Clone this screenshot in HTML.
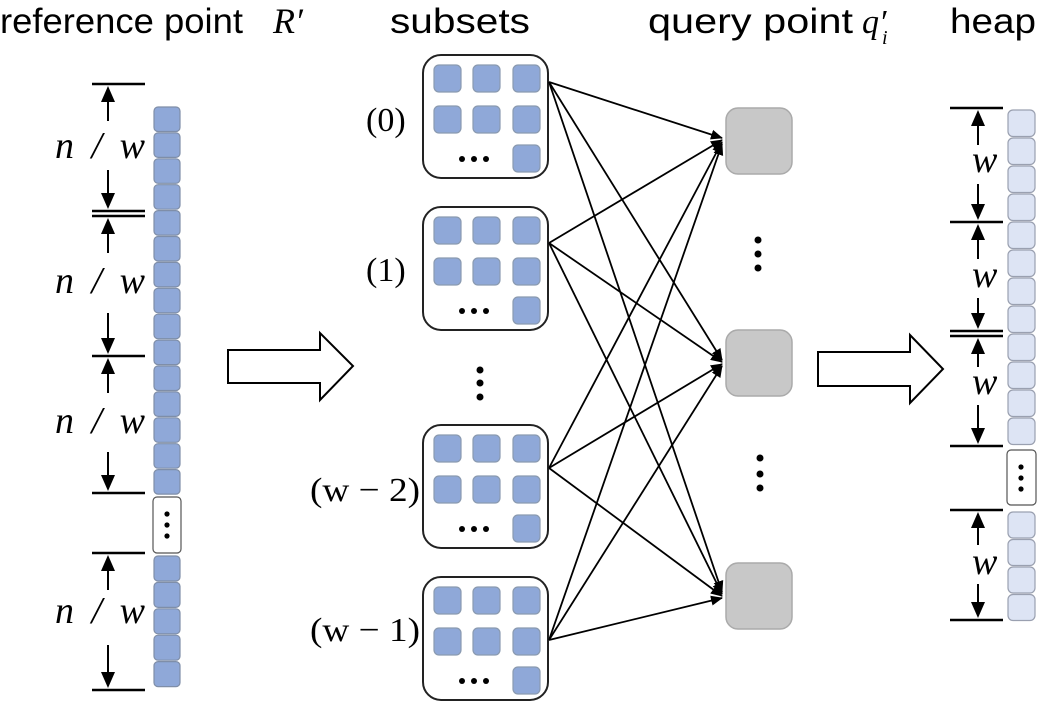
<!DOCTYPE html>
<html><head><meta charset="utf-8"><style>body{margin:0;background:#fff}svg{display:block}</style></head><body>
<svg id="s" width="1040" height="703" viewBox="0 0 1040 703" xmlns="http://www.w3.org/2000/svg">
<defs>
<marker id="ah" markerWidth="12" markerHeight="12" refX="11" refY="6" orient="auto" markerUnits="userSpaceOnUse" viewBox="0 0 12 12"><path d="M0,1 L12,6 L0,11 z" fill="#000"/></marker>
</defs>
<g font-family="Liberation Sans, sans-serif" font-size="35" fill="#000">
<text x="0" y="33" textLength="243" lengthAdjust="spacingAndGlyphs">reference point</text>
<text x="273" y="33" font-family="Liberation Serif, serif" font-style="italic" font-size="36">R′</text>
<text x="390" y="33" textLength="140" lengthAdjust="spacingAndGlyphs">subsets</text>
<text x="648" y="33" textLength="205" lengthAdjust="spacingAndGlyphs">query point</text>
<text x="862" y="33" font-family="Liberation Serif, serif" font-style="italic" font-size="34">q′</text>
<text x="882" y="44" font-family="Liberation Serif, serif" font-style="italic" font-size="20">i</text>
<text x="950" y="33" textLength="86" lengthAdjust="spacingAndGlyphs">heap</text>
</g>
<g stroke="#000" stroke-width="2.5" fill="none">
<line x1="92" y1="84" x2="145" y2="84"/>
<line x1="92" y1="211" x2="145" y2="211"/><line x1="92" y1="216" x2="145" y2="216"/>
<line x1="92" y1="356" x2="145" y2="356"/>
<line x1="92" y1="493" x2="145" y2="493"/>
<line x1="92" y1="553" x2="145" y2="553"/>
<line x1="92" y1="690" x2="145" y2="690"/>
<line x1="950" y1="108" x2="1003" y2="108"/>
<line x1="950" y1="222" x2="1003" y2="222"/>
<line x1="950" y1="331" x2="1003" y2="331"/><line x1="950" y1="336" x2="1003" y2="336"/>
<line x1="950" y1="446" x2="1003" y2="446"/>
<line x1="950" y1="510" x2="1003" y2="510"/>
<line x1="950" y1="620" x2="1003" y2="620"/>
</g>
<g id="dims" stroke="#000" stroke-width="2" fill="#000"></g>
<g font-family="Liberation Serif, serif" font-style="italic" font-size="38" fill="#000">
<text x="55" y="158" textLength="90" lengthAdjust="spacing">n/w</text>
<text x="55" y="293" textLength="90" lengthAdjust="spacing">n/w</text>
<text x="55" y="433" textLength="90" lengthAdjust="spacing">n/w</text>
<text x="55" y="623" textLength="90" lengthAdjust="spacing">n/w</text>
<text x="972" y="172" font-size="38">w</text><text x="972" y="287" font-size="38">w</text><text x="972" y="394" font-size="38">w</text><text x="972" y="574" font-size="38">w</text>
</g>
<g id="cells"></g>
<path d="M228,350 L320,350 L320,333 L353,366 L320,400 L320,383 L228,383 Z" fill="#fff" stroke="#000" stroke-width="2"/>
<path d="M818,352 L910,352 L910,335 L943,369 L910,403 L910,386 L818,386 Z" fill="#fff" stroke="#000" stroke-width="2"/>
<g font-family="Liberation Serif, serif" font-size="34" fill="#000">
<text x="366" y="131">(0)</text>
<text x="366" y="281">(1)</text>
<text x="310" y="501" textLength="110" lengthAdjust="spacingAndGlyphs">(w − 2)</text>
<text x="310" y="641" textLength="110" lengthAdjust="spacingAndGlyphs">(w − 1)</text>
</g>
<g fill="#c8c8c8" stroke="#aaa" stroke-width="1.5">
<rect x="726" y="108" width="66" height="66" rx="12"/>
<rect x="726" y="330" width="66" height="66" rx="12"/>
<rect x="726" y="563" width="66" height="66" rx="12"/>
</g>
<g fill="#000">
<circle cx="480" cy="370" r="3.5"/><circle cx="480" cy="383" r="3.5"/><circle cx="480" cy="397" r="3.5"/>
<circle cx="758" cy="240" r="3.5"/><circle cx="758" cy="254" r="3.5"/><circle cx="758" cy="268" r="3.5"/>
<circle cx="760" cy="458" r="3.5"/><circle cx="760" cy="474" r="3.5"/><circle cx="760" cy="488" r="3.5"/>
</g>
<g stroke="#000" stroke-width="1.8" marker-end="url(#ah)">
<line x1="549" y1="82" x2="722" y2="138"/><line x1="549" y1="82" x2="722" y2="360"/><line x1="549" y1="82" x2="722" y2="592"/>
<line x1="549" y1="243" x2="722" y2="140"/><line x1="549" y1="243" x2="722" y2="362"/><line x1="549" y1="243" x2="722" y2="594"/>
<line x1="549" y1="468" x2="722" y2="142"/><line x1="549" y1="468" x2="722" y2="364"/><line x1="549" y1="468" x2="722" y2="596"/>
<line x1="549" y1="640" x2="722" y2="144"/><line x1="549" y1="640" x2="722" y2="366"/><line x1="549" y1="640" x2="722" y2="598"/>
</g>
</svg>
<script>
var ns="http://www.w3.org/2000/svg",g=document.getElementById("cells"),d=document.getElementById("dims");
function el(p,n,a){var e=document.createElementNS(ns,n);for(var k in a)e.setAttribute(k,a[k]);p.appendChild(e);return e;}
function r(x,y,w,h,rx,f,s){return el(g,"rect",{x:x,y:y,width:w,height:h,rx:rx,fill:f,stroke:s,"stroke-width":1.2});}
function up(x,y,len){el(d,"line",{x1:x,y1:y+14,x2:x,y2:y+len});el(d,"polygon",{points:(x-7)+","+(y+17)+" "+(x+7)+","+(y+17)+" "+x+","+(y+1),stroke:"none"});}
function dn(x,y,len){el(d,"line",{x1:x,y1:y-14,x2:x,y2:y-len});el(d,"polygon",{points:(x-7)+","+(y-17)+" "+(x+7)+","+(y-17)+" "+x+","+(y-1),stroke:"none"});}
up(108,85,36);dn(108,210,40);up(108,217,36);dn(108,355,42);up(108,357,36);dn(108,492,40);up(108,554,36);dn(108,689,44);
up(978,109,36);dn(978,221,37);up(978,223,36);dn(978,330,32);up(978,337,30);dn(978,445,40);up(978,511,34);dn(978,619,35);
for(var i=0;i<15;i++)r(154,107+i*25.9,26,24.5,4,"#8fa8d8","#7f8ea8");
r(153,497,28,56,4,"#fff","#555");
for(i=0;i<5;i++)r(154,556+i*26.4,26,25,4,"#8fa8d8","#7f8ea8");
for(i=0;i<12;i++)r(1008,110+i*28,27,26.5,5,"#dde4f4","#9aa0b0");
r(1007,450,29,55,4,"#fff","#555");
for(i=0;i<4;i++)r(1008,512+i*27.5,27,26,5,"#dde4f4","#9aa0b0");
[55,207,425,577].forEach(function(y){r(423,y,125,123,18,"#fff","#222").setAttribute("stroke-width",2);
 [434,473,513].forEach(function(x){r(x,y+10,27,27,5,"#8fa8d8","#8a9ab0");r(x,y+51,27,27,5,"#8fa8d8","#8a9ab0");});
 r(513,y+90,27,27,5,"#8fa8d8","#8a9ab0");
 [462,474,486].forEach(function(x){el(g,"circle",{cx:x,cy:y+104,r:3});});
});
[[167,514],[167,525],[167,536],[1021,467],[1021,478],[1021,489]].forEach(function(p){el(g,"circle",{cx:p[0],cy:p[1],r:2.6});});
</script>
</body></html>
